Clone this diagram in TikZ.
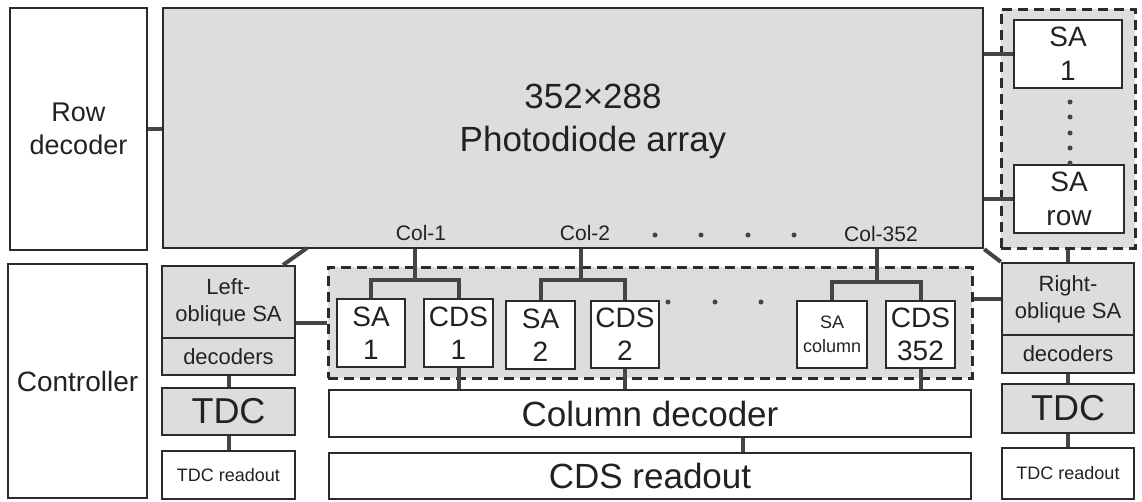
\documentclass[tikz,border=0pt]{standalone}
\usepackage{fontspec}
\setmainfont{Liberation Sans}
\definecolor{fillg}{HTML}{DCDDDF}
\definecolor{lc}{HTML}{2B2B2B}
\definecolor{cc}{HTML}{454545}
\definecolor{tc}{HTML}{222222}
\newcommand\myfs[2]{\fontsize{#1}{#2}\selectfont}
\tikzset{
 blk/.style={draw=lc, line width=2.4pt, inner sep=0pt, align=center, text=tc},
 wb/.style={blk, fill=white},
 gb/.style={blk, fill=fillg},
 dbox/.style={draw=lc, line width=3pt, dash pattern=on 10pt off 6pt, fill=fillg, inner sep=0pt},
 wire/.style={draw=cc, line width=4pt},
 dotc/.style={circle, fill=cc, inner sep=0pt, minimum size=5pt},
 lbl/.style={text=tc, inner sep=0pt, align=center},
}
\begin{document}
\begin{tikzpicture}[x=1pt,y=-1pt]
\useasboundingbox[fill=white] (0,0) rectangle (1142,501);
% top row
\node[wb, minimum width=137pt, minimum height=242pt, font=\myfs{27}{33}] (rowdec) at (78.5,129) {Row\\decoder};
\node[gb, minimum width=820pt, minimum height=240pt] (array) at (573,128) {};
\node[lbl, font=\myfs{35}{43}] (arrtxt) at (593,121) {352×288\\Photodiode array};
\node[dbox, minimum width=134pt, minimum height=239pt] (rowdash) at (1068,128.5) {};
\node[wb, minimum width=108pt, minimum height=68pt, font=\myfs{28}{34}] (rsa1) at (1068,54) {SA\\1};
\node[wb, minimum width=110pt, minimum height=68pt, font=\myfs{28}{34}] (rsarow) at (1069,199) {SA\\row};
% left column
\node[wb, minimum width=139pt, minimum height=234pt, font=\myfs{28}{33}] (ctrl) at (77.5,381) {Controller};
\node[gb, minimum width=133pt, minimum height=72pt, font=\myfs{22}{27}] (lsa) at (228.5,302) {Left-\\oblique SA};
\node[gb, minimum width=133pt, minimum height=37pt, font=\myfs{22}{27}] (ldec) at (228.5,356.5) {decoders};
\node[gb, minimum width=133pt, minimum height=47pt, font=\myfs{36}{40}] (ltdc) at (228.5,411.5) {TDC};
\node[wb, minimum width=133pt, minimum height=48pt, font=\myfs{18}{22}] (lread) at (228.5,475) {TDC readout};
% column circuits
\node[dbox, minimum width=644pt, minimum height=111pt] (coldash) at (650,322.5) {};
\node[wb, minimum width=68pt, minimum height=68pt, font=\myfs{28}{33}] (sa1) at (371,333) {SA\\1};
\node[wb, minimum width=69pt, minimum height=68pt, font=\myfs{28}{33}] (cds1) at (458.5,333) {CDS\\1};
\node[wb, minimum width=69pt, minimum height=68pt, font=\myfs{28}{33}] (sa2) at (540.5,335) {SA\\2};
\node[wb, minimum width=68pt, minimum height=67pt, font=\myfs{28}{33}] (cds2) at (625,334.5) {CDS\\2};
\node[wb, minimum width=70pt, minimum height=67pt, font=\myfs{18}{24}] (sacol) at (832,334.5) {SA\\column};
\node[wb, minimum width=69pt, minimum height=67pt, font=\myfs{28}{33}] (cds352) at (920.5,334.5) {CDS\\352};
\node[wb, minimum width=642pt, minimum height=47pt, font=\myfs{35}{40}] (coldec) at (650,413.5) {Column decoder};
\node[wb, minimum width=642pt, minimum height=46pt, font=\myfs{35}{40}] (cdsread) at (650,476) {CDS readout};
% right column
\node[gb, minimum width=132pt, minimum height=72pt, font=\myfs{22}{27}] (rsa) at (1068,299) {Right-\\oblique SA};
\node[gb, minimum width=132pt, minimum height=38pt, font=\myfs{22}{27}] (rdec) at (1068,354) {decoders};
\node[gb, minimum width=132pt, minimum height=49pt, font=\myfs{36}{40}] (rtdc) at (1068,408.5) {TDC};
\node[wb, minimum width=132pt, minimum height=51pt, font=\myfs{18}{22}] (rread) at (1068,473.5) {TDC readout};
% labels
\node[lbl, font=\myfs{21}{25}] (col1) at (421,233) {Col-1};
\node[lbl, font=\myfs{21}{25}] (col2) at (585,233) {Col-2};
\node[lbl, font=\myfs{21}{25}] (col352) at (881,234) {Col-352};
\node[dotc] (td1) at (655,235) {};
\node[dotc] (td2) at (701,235) {};
\node[dotc] (td3) at (748,235) {};
\node[dotc] (td4) at (794,235) {};
\node[dotc] (md1) at (668,302) {};
\node[dotc] (md2) at (715,302) {};
\node[dotc] (md3) at (761,302) {};
\node[dotc] (vd1) at (1070,102) {};
\node[dotc] (vd2) at (1070,117) {};
\node[dotc] (vd3) at (1070,133) {};
\node[dotc] (vd4) at (1070,148) {};
\node[dotc] (vd5) at (1070,163) {};
% coordinates
\coordinate (c1) at (415,280);
\coordinate (c2) at (581,280);
\coordinate (c3) at (877,282);
\coordinate (ldA) at (307,248);
\coordinate (ldB) at (283,265);
\coordinate (lsal) at ([yshift=-21pt]lsa.east);
% wires
\draw[wire] (rowdec.east) -- (rowdec.east -| array.west);
\draw[wire] (rsa1.west -| array.east) -- (rsa1.west);
\draw[wire] (rsarow.west -| array.east) -- (rsarow.west);
\draw[wire] (rowdash.south) -- (rowdash.south |- rsa.north);
\draw[wire] (ldA) -- (ldB);
\draw[wire] (array.south east) -- (rsa.north west);
\draw[wire] (lsal) -- (lsal -| coldash.west);
\draw[wire] (rsa.west -| coldash.east) -- (rsa.west);
\draw[wire] (ldec.south) -- (ltdc.north);
\draw[wire] (ltdc.south) -- (lread.north);
\draw[wire] (rdec.south) -- (rtdc.north);
\draw[wire] (rtdc.south) -- (rread.north);
\draw[wire] (c1 |- array.south) -- (c1);
\draw[wire] (sa1.north) -- (sa1.north |- c1) -- (cds1.north |- c1) -- (cds1.north);
\draw[wire] (c2 |- array.south) -- (c2);
\draw[wire] (sa2.north) -- (sa2.north |- c2) -- (cds2.north |- c2) -- (cds2.north);
\draw[wire] (c3 |- array.south) -- (c3);
\draw[wire] (sacol.north) -- (sacol.north |- c3) -- (cds352.north |- c3) -- (cds352.north);
\draw[wire] (cds1.south) -- (cds1.south |- coldec.north);
\draw[wire] (cds2.south) -- (cds2.south |- coldec.north);
\draw[wire] (cds352.south) -- (cds352.south |- coldec.north);
\draw[wire] ([xshift=93pt]coldec.south) -- ([xshift=93pt]cdsread.north);
\end{tikzpicture}
\end{document}
